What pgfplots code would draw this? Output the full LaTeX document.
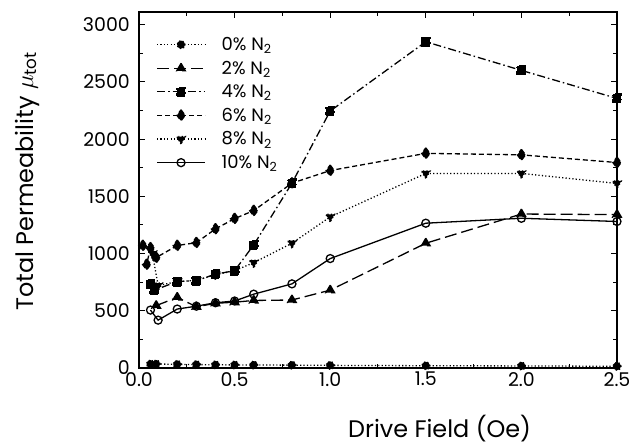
\documentclass[border=0pt]{standalone}
\usepackage{pgfplots}
\pgfplotsset{compat=1.18}
\usepackage{fontspec}
\setmainfont{Poppins}
\begin{document}
\begin{tikzpicture}
\begin{axis}[
  scale only axis, width=478bp, height=356bp,
  xmin=0, xmax=2.5, ymin=0, ymax=3110,
  xtick={0,0.5,1,1.5,2,2.5},
  xticklabels={0.0,0.5,1.0,1.5,2.0,2.5},
  ytick={0,500,1000,1500,2000,2500,3000},
  yticklabels={0,500,1000,1500,2000,2500,3000},
  minor xtick={0.25,0.75,1.25,1.75,2.25},
  minor ytick={250,750,1250,1750,2250,2750},
  tick align=inside, major tick length=6bp, minor tick length=4bp,
  every tick/.style={black, line width=1bp},
  axis line style={line width=1.8bp},
  tick label style={font=\fontsize{19}{19}\selectfont},
  xticklabel style={anchor=north, inner sep=0pt, yshift=-4bp},
  yticklabel style={anchor=east, inner sep=0pt, xshift=-9bp},
  xlabel={Drive Field (Oe)},
  ylabel={Total Permeability $\mu$\textsubscript{tot}},
  every axis x label/.style={at={(axis description cs:0.629,-0.169)}, anchor=center, font=\fontsize{24}{24}\selectfont},
  every axis y label/.style={at={(axis description cs:-0.234,0.524)}, rotate=90, anchor=center, font=\fontsize{24}{24}\selectfont},
  legend style={draw=none, fill=none, at={(0.036,0.935)}, anchor=north west,
    font=\fontsize{18}{18}\selectfont, row sep=5bp, column sep=14bp, inner sep=0pt},
  legend cell align=left,
  legend image code/.code={\draw[mark repeat=2,mark phase=2,#1] plot coordinates {(0bp,0bp) (24bp,0bp) (48bp,0bp)};},
  every axis plot/.append style={black, line width=1.3bp},
  every mark/.append style={solid},
]
% 0% N2
\addplot[dash pattern=on 1.2bp off 2.2bp, mark=*, mark size=4bp] coordinates {
(0.06,35)(0.09,35)(0.2,32)(0.3,30)(0.4,28)(0.5,27)(0.6,26)(0.8,25)(1.0,23)(1.5,20)(2.0,18)(2.5,15)};
\addlegendentry{0\% N\textsubscript{2}}
% 2% N2
\addplot[dash pattern=on 12bp off 5bp, mark=triangle*, mark size=5bp] coordinates {
(0.09,545)(0.2,617)(0.3,535)(0.4,565)(0.5,575)(0.6,590)(0.8,594)(1.0,680)(1.5,1090)(2.0,1345)(2.5,1340)};
\addlegendentry{2\% N\textsubscript{2}}
% 4% N2
\addplot[dash pattern=on 8bp off 3bp on 1.5bp off 3bp, mark=square*, mark size=4.3bp] coordinates {
(0.06,735)(0.08,680)(0.2,755)(0.3,763)(0.4,820)(0.5,850)(0.6,1075)(0.8,1615)(1.0,2245)(1.5,2850)(2.0,2600)(2.5,2355)};
\addlegendentry{4\% N\textsubscript{2}}
% 6% N2
\addplot[dash pattern=on 5bp off 3bp, mark=diamond*, mark size=5.5bp] coordinates {
(0.02,1070)(0.06,1050)(0.04,905)(0.09,965)(0.2,1070)(0.3,1095)(0.4,1215)(0.5,1305)(0.6,1375)(0.8,1615)(1.0,1725)(1.5,1875)(2.0,1862)(2.5,1795)};
\addlegendentry{6\% N\textsubscript{2}}
% 8% N2
\addplot[dash pattern=on 1.2bp off 2.2bp, mark=triangle*, mark options={rotate=180}, mark size=5bp] coordinates {
(0.07,1000)(0.1,720)(0.2,755)(0.3,765)(0.4,815)(0.5,850)(0.6,920)(0.8,1090)(1.0,1320)(1.5,1700)(2.0,1700)(2.5,1612)};
\addlegendentry{8\% N\textsubscript{2}}
% 10% N2
\addplot[solid, mark=o, mark size=4bp, mark options={fill=white}] coordinates {
(0.06,506)(0.1,418)(0.2,515)(0.3,540)(0.4,570)(0.5,585)(0.6,645)(0.8,735)(1.0,956)(1.5,1265)(2.0,1308)(2.5,1280)};
\addlegendentry{10\% N\textsubscript{2}}
\end{axis}
\pgfresetboundingbox
\path[use as bounding box] ([shift={(-139bp,-79bp)}]current axis.south west) rectangle ([shift={(18bp,12bp)}]current axis.north east);
\end{tikzpicture}
\end{document}
